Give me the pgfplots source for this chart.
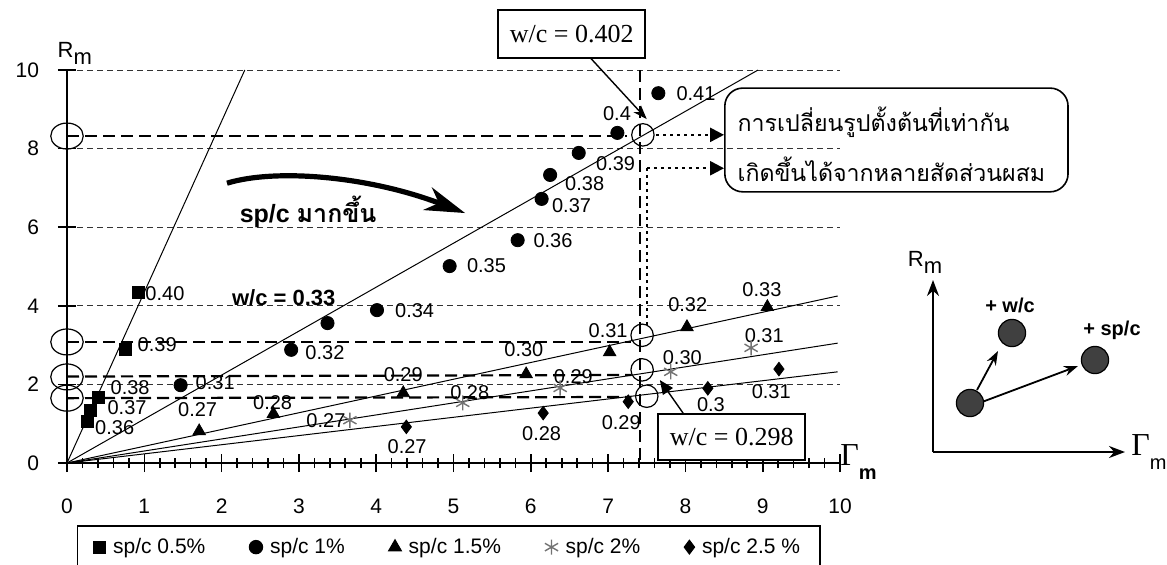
\documentclass[border=0pt]{standalone}
\usepackage{fontspec}
\setmainfont{Liberation Sans}
\newfontfamily\thai[Script=Thai]{Loma}
\newfontfamily\serif{Liberation Serif}
\usepackage{pgfplots}
\pgfplotsset{compat=1.18}
\usetikzlibrary{arrows.meta}
\begin{document}
\begin{tikzpicture}
\useasboundingbox (-33.5pt,-50.5pt) rectangle (550pt,231.5pt);
\begin{axis}[
 at={(0,0)}, anchor=south west,
 x=38.65pt, y=19.65pt,
 xmin=0, xmax=10, ymin=0, ymax=10,
 enlargelimits=false, clip=false,
 axis x line=bottom, axis y line=left,
 axis line style={-, line width=0.8pt},
 xtick={0,...,10}, ytick={0,2,...,10},
 minor xtick={0.2,0.4,...,9.9},
 xtick pos=bottom, ytick pos=left,
 tick align=center,
 every tick/.style={draw=black, line width=0.8pt},
 major tick length=9pt, minor tick length=5pt,
 ymajorgrids, grid style={densely dashed, line width=0.4pt, black!80},
 /pgf/number format/assume math mode=true,
 tick label style={font=\fontsize{10.5}{12}\selectfont},
 xticklabel style={yshift=-10pt},
 yticklabel style={xshift=-6pt},
 legend style={at={(0.494,-0.214)}, anchor=center, draw=black, line width=0.6pt,
   font=\fontsize{10.5}{12}\selectfont, inner ysep=4pt, inner xsep=8pt},
 legend columns=5,
 legend cell align=left,
 /tikz/every even column/.append style={column sep=20pt},
]
% fitted lines
\addplot[forget plot, black, line width=0.5pt] coordinates {(0,0) (2.30,10)};
\addplot[forget plot, black, line width=0.5pt] coordinates {(0,0) (8.94,10)};
\addplot[forget plot, black, line width=0.5pt] coordinates {(0,0) (9.97,4.25)};
\addplot[forget plot, black, line width=0.5pt] coordinates {(0,0) (9.97,3.05)};
\addplot[forget plot, black, line width=0.5pt] coordinates {(0,0) (9.97,2.32)};
% dashed construction lines
\addplot[forget plot, black, line width=1.1pt, dash pattern=on 6pt off 3pt] coordinates {(0,8.32) (7.25,8.32)};
\addplot[forget plot, black, line width=1.1pt, dash pattern=on 6pt off 3pt] coordinates {(0,3.08) (7.3,3.08)};
\addplot[forget plot, black, line width=1.1pt, dash pattern=on 6pt off 3pt] coordinates {(0,2.20) (7.3,2.24)};
\addplot[forget plot, black, line width=1.1pt, dash pattern=on 6pt off 3pt] coordinates {(0,1.65) (7.3,1.68)};
\addplot[forget plot, black, line width=1.1pt, dash pattern=on 6pt off 3pt] coordinates {(7.41,10) (7.41,0)};
\addplot[forget plot, black, line width=1.1pt, dash pattern=on 1.5pt off 2pt] coordinates {(7.50,7.5) (7.50,3.45)};
% circles marking equal strain
\addplot[forget plot, only marks, mark=o, mark size=6.5pt, mark options={xscale=1.25, line width=0.6pt}] coordinates {(0,8.32) (0,3.08) (0,2.19) (0,1.65)};
\addplot[forget plot, only marks, mark=o, mark size=5.6pt, mark options={line width=0.6pt}] coordinates {(7.45,8.35) (7.44,3.25) (7.44,2.37) (7.5,1.70)};
% data
\addplot[only marks, mark=square*, mark size=3pt, black] coordinates {(0.92,4.35) (0.75,2.88) (0.41,1.68) (0.30,1.35) (0.27,1.05)};
\addlegendentry{\,sp/c 0.5\%}
\addplot[only marks, mark=*, mark size=3.3pt, black] coordinates {(1.47,1.98) (2.90,2.88) (3.37,3.56) (4.01,3.89) (4.95,5.01) (5.83,5.67) (6.14,6.72) (6.25,7.33) (6.62,7.89) (7.12,8.40) (7.65,9.41)};
\addlegendentry{\,sp/c 1\%}
\addplot[only marks, mark=triangle*, mark size=3.6pt, black] coordinates {(1.71,0.81) (2.67,1.25) (4.35,1.78) (5.94,2.26) (7.02,2.82) (8.02,3.46) (9.06,3.97)};
\addlegendentry{\,sp/c 1.5\%}
\addplot[only marks, mark=asterisk, mark size=3.8pt, black!55, mark options={line width=0.7pt}] coordinates {(3.66,1.09) (5.12,1.53) (6.38,1.91) (7.81,2.32) (8.85,2.93)};
\addlegendentry{\,sp/c 2\%}
\addplot[only marks, mark=diamond*, mark size=3.4pt, black] coordinates {(4.39,0.92) (6.16,1.27) (7.26,1.56) (8.29,1.90) (9.21,2.39)};
\addlegendentry{\,sp/c 2.5 \%}
% point labels
\begin{scope}[every node/.style={font=\fontsize{10}{12}\selectfont, inner sep=0pt}]
\node[anchor=west] at (axis cs:1.01,4.30) {0.40};
\node[anchor=west] at (axis cs:0.91,3.00) {0.39};
\node[anchor=west] at (axis cs:0.56,1.91) {0.38};
\node[anchor=west] at (axis cs:0.52,1.40) {0.37};
\node[anchor=west] at (axis cs:0.36,0.89) {0.36};
\node[anchor=west] at (axis cs:1.66,2.04) {0.31};
\node[anchor=west] at (axis cs:3.08,2.82) {0.32};
\node[anchor=west] at (axis cs:4.24,3.87) {0.34};
\node[anchor=west] at (axis cs:5.17,5.01) {0.35};
\node[anchor=west] at (axis cs:6.03,5.65) {0.36};
\node[anchor=west] at (axis cs:6.27,6.56) {0.37};
\node[anchor=west] at (axis cs:6.44,7.12) {0.38};
\node[anchor=west] at (axis cs:6.84,7.63) {0.39};
\node[anchor=west] at (axis cs:6.93,8.88) {0.4};
\node[anchor=west] at (axis cs:7.88,9.39) {0.41};
\node at (axis cs:1.69,1.35) {0.27};
\node at (axis cs:2.66,1.53) {0.28};
\node at (axis cs:4.35,2.26) {0.29};
\node at (axis cs:5.91,2.88) {0.30};
\node at (axis cs:7.00,3.36) {0.31};
\node at (axis cs:8.03,4.02) {0.32};
\node at (axis cs:8.99,4.40) {0.33};
\node at (axis cs:3.35,1.09) {0.27};
\node at (axis cs:5.21,1.78) {0.28};
\node at (axis cs:6.55,2.19) {0.29};
\node at (axis cs:7.96,2.67) {0.30};
\node at (axis cs:9.02,3.23) {0.31};
\node at (axis cs:4.40,0.41) {0.27};
\node at (axis cs:6.14,0.74) {0.28};
\node at (axis cs:7.17,1.04) {0.29};
\node at (axis cs:8.33,1.48) {0.3};
\node at (axis cs:9.11,1.81) {0.31};
\end{scope}
\node[anchor=west, inner sep=0pt, font=\fontsize{11}{13}\selectfont\bfseries] at (axis cs:2.13,4.20) {w/c = 0.33};
% axis titles
\node[inner sep=0pt, font=\fontsize{11}{13}\selectfont] at (axis cs:0.1,10.42) {R\raisebox{-0.6ex}{m}};
\node[anchor=west, inner sep=0pt] at (axis cs:10.0,0.02) {{\serif\fontsize{16}{16}\selectfont Γ}\raisebox{-1.3ex}{\fontsize{10}{12}\selectfont\bfseries m}};
% curved arrow and text
\draw[line width=2.6pt, -{Stealth[length=20pt,width=12pt,inset=6pt]}] (axis cs:2.07,7.12) .. controls (axis cs:2.7,7.5) and (axis cs:3.9,7.3) .. (axis cs:5.15,6.36);
\node[inner sep=0pt, font=\fontsize{12.5}{14}\selectfont\bfseries] at (axis cs:3.12,6.38) {sp/c {\thai\bfseries มากขึ้น}};
% boxes
\node[draw, line width=0.8pt, fill=white, minimum width=73.5pt, minimum height=24pt, inner sep=0pt, font=\serif\fontsize{13}{15}\selectfont] (b1) at (axis cs:6.53,10.92) {w/c = 0.402};
\draw[line width=0.7pt, -{Stealth[length=7pt,width=5pt]}] (axis cs:6.77,10.31) -- (axis cs:7.50,8.75);
\node[draw, line width=0.8pt, fill=white, minimum width=73.5pt, minimum height=23pt, inner sep=0pt, font=\serif\fontsize{13}{15}\selectfont] (b2) at (axis cs:8.60,0.66) {w/c = 0.298};
\draw[line width=0.7pt, -{Triangle[length=7pt,width=6pt]}] (axis cs:7.97,1.27) -- (axis cs:7.67,2.11);
% dotted arrows to text box
\draw[line width=1.2pt, dash pattern=on 1.5pt off 2pt, -{Triangle[length=7pt,width=7pt]}] (axis cs:7.62,8.35) -- (axis cs:8.50,8.35);
\draw[line width=1.2pt, dash pattern=on 1.5pt off 2pt, -{Triangle[length=7pt,width=7pt]}] (axis cs:7.50,7.50) -- (axis cs:8.50,7.50);
\draw[line width=0.8pt, rounded corners=9pt] (axis cs:8.51,9.54) rectangle (axis cs:12.95,6.90);
\node[anchor=west, inner sep=0pt, font=\thai\fontsize{11.6}{14}\selectfont] at (axis cs:8.67,8.68) {การเปลี่ยนรูปตั้งต้นที่เท่ากัน};
\node[anchor=west, inner sep=0pt, font=\thai\fontsize{11.6}{14}\selectfont] at (axis cs:8.67,7.48) {เกิดขึ้นได้จากหลายสัดส่วนผสม};
\end{axis}
% inset schematic
\begin{axis}[
 at={(433pt,5.5pt)}, anchor=south west,
 x=0.5pt, y=0.5pt, xmin=0, xmax=192, ymin=0, ymax=172,
 axis lines=left, enlargelimits=false, clip=false,
 axis line style={line width=1pt, -{Stealth[length=8pt,width=6pt]}},
 xtick=\empty, ytick=\empty,
]
\addplot[only marks, mark=*, mark size=6.8pt, mark options={fill=black!75, draw=black, line width=0.6pt}] coordinates {(37,49) (79,119) (162,92)};
\draw[line width=0.9pt, -{Stealth[length=7pt,width=5pt]}] (axis cs:44,62) -- (axis cs:65,101);
\draw[line width=0.9pt, -{Stealth[length=7pt,width=5pt]}] (axis cs:49,50) -- (axis cs:145,86);
\node[inner sep=0pt, font=\fontsize{10}{12}\selectfont\bfseries] at (axis cs:77,147) {+ w/c};
\node[inner sep=0pt, font=\fontsize{10}{12}\selectfont\bfseries] at (axis cs:179,122) {+ sp/c};
\node[inner sep=0pt, font=\fontsize{11}{13}\selectfont] at (axis cs:-8,190) {R\raisebox{-0.6ex}{m}};
\node[anchor=west, inner sep=0pt] at (axis cs:198,0) {{\serif\fontsize{16}{16}\selectfont Γ}\raisebox{-1.3ex}{\fontsize{10}{12}\selectfont m}};
\end{axis}
\end{tikzpicture}
\end{document}
